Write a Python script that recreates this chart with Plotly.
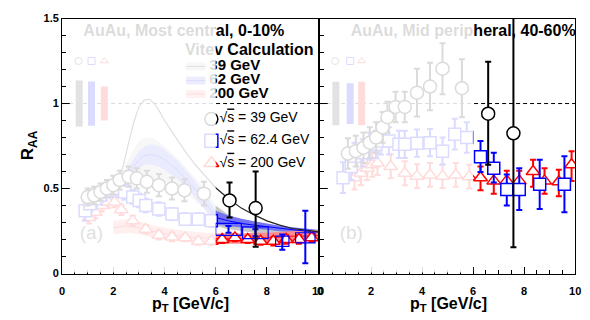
import plotly.graph_objects as go

FONT = "Liberation Sans, Arial, Helvetica, sans-serif"

# ---------------- Panel (a): AuAu most central 0-10% ----------------
a39_x = [1.0, 1.25, 1.5, 1.75, 2.0, 2.25, 2.6, 2.92, 3.31, 3.78, 4.29, 4.78, 5.54, 6.54, 7.56]
a39_y = [0.45, 0.46, 0.48, 0.50, 0.52, 0.55, 0.57, 0.56, 0.54, 0.52, 0.50, 0.49, 0.47, 0.43, 0.385]
a39_up = [0.05, 0.05, 0.05, 0.05, 0.055, 0.055, 0.06, 0.06, 0.065, 0.065, 0.065, 0.065, 0.07, 0.106, 0.215]
a39_dn = [0.05, 0.05, 0.05, 0.05, 0.055, 0.055, 0.06, 0.06, 0.065, 0.065, 0.065, 0.065, 0.07, 0.10, 0.227]

a62_x = [0.9, 1.09, 1.28, 1.47, 1.67, 1.92, 2.18, 2.44, 2.76, 3.01, 3.27, 3.78, 4.29, 4.81, 5.32, 5.83]
a62_y = [0.37, 0.41, 0.44, 0.46, 0.48, 0.50, 0.50, 0.48, 0.45, 0.43, 0.40, 0.38, 0.35, 0.32, 0.32, 0.31]
a62_err = [0.06, 0.05, 0.05, 0.05, 0.05, 0.05, 0.05, 0.045, 0.04, 0.04, 0.04, 0.04, 0.035, 0.035, 0.035, 0.035]
# high-pT 62.4 GeV bins (bin half-width, systematic half-height)
a62h_x = [6.5, 7.55, 8.6, 9.5]
a62h_y = [0.26, 0.24, 0.19, 0.21]
a62h_xw = [0.5, 0.5, 0.26, 0.38]
a62h_sys = [0.035, 0.035, 0.03, 0.03]
a62h_up = [0.02, 0.02, 0.04, 0.16]
a62h_dn = [0.02, 0.02, 0.05, 0.15]

a200_x = [1.05, 1.3, 1.55, 1.8, 2.05, 2.31, 2.76, 3.27, 3.78, 4.29, 4.81, 5.32, 5.83,
          6.25, 6.75, 7.25, 7.75, 8.25, 8.75, 9.25, 9.75]
a200_y = [0.33, 0.36, 0.40, 0.42, 0.42, 0.375, 0.31, 0.26, 0.225, 0.215, 0.21, 0.19, 0.19,
          0.20, 0.21, 0.20, 0.19, 0.19, 0.20, 0.20, 0.21]
a200_err = [0.035, 0.035, 0.035, 0.035, 0.03, 0.03, 0.03, 0.025, 0.025, 0.025, 0.02, 0.02, 0.02,
            0.02, 0.02, 0.02, 0.02, 0.025, 0.025, 0.025, 0.025]

# Vitev calculation (panel a)
th39_x = [2.2, 2.4, 2.6, 2.8, 3.0, 3.2, 3.4, 3.6, 3.8, 4.0, 4.4, 4.8, 5.2, 5.6, 6.0,
          6.5, 7.0, 7.5, 8.0, 8.5, 9.0, 9.5, 10.0]
th39_y = [0.55, 0.64, 0.77, 0.89, 0.98, 1.02, 1.025, 1.0, 0.955, 0.9, 0.81, 0.72, 0.64, 0.57, 0.505,
          0.44, 0.385, 0.345, 0.31, 0.285, 0.265, 0.255, 0.245]
thb_x = [2.3, 2.5, 2.75, 3.0, 3.25, 3.5, 3.75, 4.0, 4.5, 5.0, 5.5, 6.0, 6.5, 7.0, 7.5, 8.0, 8.5, 9.0, 9.5, 10.0]
th39_hi = [0.56, 0.64, 0.72, 0.78, 0.80, 0.80, 0.78, 0.75, 0.68, 0.60, 0.51, 0.40, 0.345, 0.32, 0.305, 0.29, 0.28, 0.27, 0.26, 0.255]
th39_lo = [0.40, 0.44, 0.48, 0.52, 0.54, 0.55, 0.55, 0.54, 0.50, 0.45, 0.39, 0.28, 0.26, 0.25, 0.24, 0.235, 0.23, 0.225, 0.22, 0.22]
th62_c = [0.48, 0.55, 0.62, 0.67, 0.695, 0.70, 0.69, 0.67, 0.61, 0.53, 0.44, 0.33, 0.31, 0.295, 0.285, 0.275, 0.265, 0.258, 0.25, 0.245]
th62_h = [0.03, 0.04, 0.045, 0.05, 0.055, 0.06, 0.06, 0.06, 0.055, 0.05, 0.048, 0.04, 0.032, 0.027, 0.022, 0.018, 0.016, 0.014, 0.013, 0.012]
th200_x = [2.0, 2.5, 3.0, 3.5, 4.0, 4.5, 5.0, 5.5, 6.0, 6.5, 7.0, 7.5, 8.0, 8.5, 9.0, 9.5, 10.0]
th200_c = [0.27, 0.28, 0.27, 0.25, 0.235, 0.225, 0.215, 0.21, 0.205, 0.205, 0.205, 0.21, 0.21, 0.215, 0.22, 0.22, 0.225]
th200_h = [0.04, 0.04, 0.038, 0.036, 0.035, 0.034, 0.033, 0.032, 0.031, 0.03, 0.03, 0.03, 0.03, 0.03, 0.03, 0.03, 0.03]

# ---------------- Panel (b): AuAu mid peripheral 40-60% ----------------
b39_x = [1.09, 1.4, 1.7, 1.95, 2.2, 2.45, 2.64, 2.96, 3.32, 3.80, 4.31, 4.80, 5.56, 6.59, 7.58]
b39_y = [0.706, 0.72, 0.74, 0.77, 0.80, 0.86, 0.92, 0.98, 0.98, 1.064, 1.10, 1.205, 1.09, 0.94, 0.825]
b39_up = [0.09, 0.09, 0.09, 0.09, 0.09, 0.09, 0.09, 0.09, 0.09, 0.14, 0.14, 0.15, 0.17, 0.305, 0.70]
b39_dn = [0.09, 0.09, 0.09, 0.09, 0.09, 0.09, 0.09, 0.09, 0.09, 0.14, 0.14, 0.15, 0.17, 0.30, 0.67]

b62_x = [0.9, 1.22, 1.35, 1.67, 1.93, 2.19, 2.38, 2.70, 3.09, 3.32, 3.80, 4.31, 4.80, 5.28, 5.75,
         6.29, 6.81, 7.32, 7.81, 8.61, 9.58]
b62_y = [0.564, 0.63, 0.69, 0.71, 0.75, 0.76, 0.78, 0.78, 0.76, 0.76, 0.767, 0.77, 0.72, 0.82, 0.80,
         0.687, 0.62, 0.494, 0.494, 0.526, 0.526]
b62_up = [0.09, 0.08, 0.08, 0.08, 0.08, 0.08, 0.08, 0.08, 0.08, 0.08, 0.08, 0.08, 0.08, 0.09, 0.09,
          0.093, 0.09, 0.089, 0.126, 0.144, 0.164]
b62_dn = [0.09, 0.08, 0.08, 0.08, 0.08, 0.08, 0.08, 0.08, 0.08, 0.08, 0.08, 0.08, 0.08, 0.09, 0.09,
          0.09, 0.084, 0.094, 0.12, 0.146, 0.166]

b200_x = [1.35, 1.6, 1.85, 2.05, 2.25, 2.77, 3.32, 3.80, 4.31, 4.80, 5.32, 5.85,
          6.29, 6.81, 7.32, 7.81, 8.35, 8.80, 9.36, 9.86]
b200_y = [0.564, 0.59, 0.62, 0.64, 0.65, 0.63, 0.59, 0.573, 0.58, 0.573, 0.58, 0.57,
          0.564, 0.545, 0.545, 0.545, 0.60, 0.545, 0.54, 0.64]
b200_up = [0.07] * 12 + [0.066, 0.065, 0.06, 0.06, 0.07, 0.075, 0.07, 0.08]
b200_dn = [0.07] * 12 + [0.074, 0.075, 0.07, 0.07, 0.09, 0.075, 0.085, 0.095]

# global normalisation uncertainties (drawn around R_AA = 1)
norm_a_x = [0.67, 1.15, 1.65]
norm_a_h = [0.135, 0.13, 0.10]
norm_b_x = [0.62, 1.18, 1.63]
norm_b_h = [0.128, 0.12, 0.128]

BLACK, BLUE, RED = "#000000", "#0000ff", "#ff0000"

fig = go.Figure()


def add(tr):
    tr.update(showlegend=False, hoverinfo="skip")
    fig.add_trace(tr)


def band(x, lo, hi, fill, xa="x", ya="y"):
    add(go.Scatter(x=list(x) + list(x)[::-1], y=list(hi) + list(lo)[::-1], mode="lines",
                   fill="toself", fillcolor=fill, line=dict(width=0), xaxis=xa, yaxis=ya))


def points(x, y, up, dn, symbol, size, color, xa, ya):
    add(go.Scatter(x=x, y=y, mode="markers", xaxis=xa, yaxis=ya,
                   marker=dict(symbol=symbol, size=size, color="white",
                               line=dict(color=color, width=1.5)),
                   error_y=dict(type="data", symmetric=False, array=up, arrayminus=dn,
                                color=color, thickness=2, width=3)))


def text(x, y, s, size, xa="x", ya="y", pos="middle right", color=BLACK):
    add(go.Scatter(x=[x], y=[y], mode="text", text=[s], textposition=pos, xaxis=xa, yaxis=ya,
                   textfont=dict(family=FONT, size=size, color=color)))


# reference line R_AA = 1
for xa, ya in (("x", "y"), ("x2", "y2")):
    add(go.Scatter(x=[0, 10], y=[1, 1], mode="lines", xaxis=xa, yaxis=ya,
                   line=dict(color=BLACK, width=1, dash="4px,3px")))

# theory bands (panel a)
band(thb_x, th39_lo, th39_hi, "#c8c8c8")
band(thb_x, [c - h for c, h in zip(th62_c, th62_h)], [c + h for c, h in zip(th62_c, th62_h)], "#7474f4")
band(th200_x, [c - h for c, h in zip(th200_c, th200_h)], [c + h for c, h in zip(th200_c, th200_h)], "#ff8c8c")
add(go.Scatter(x=thb_x, y=th62_c, mode="lines", line=dict(color=BLUE, width=1)))
add(go.Scatter(x=th200_x, y=th200_c, mode="lines", line=dict(color=RED, width=1)))
add(go.Scatter(x=th39_x, y=th39_y, mode="lines", line=dict(color="#222222", width=1.2)))

# normalisation boxes + small symbols
for nx, nh, xa, ya in ((norm_a_x, norm_a_h, "x", "y"), (norm_b_x, norm_b_h, "x2", "y2")):
    for xi, hi, col in zip(nx, nh, ("#333333", BLUE, RED)):
        add(go.Scatter(x=[xi, xi], y=[1 - hi, 1 + hi], mode="lines", xaxis=xa, yaxis=ya,
                       line=dict(color=col, width=7)))
    add(go.Scatter(x=[nx[0] - 0.03, nx[1], nx[2]], y=[1.25, 1.25, 1.25], mode="markers", xaxis=xa, yaxis=ya,
                   marker=dict(symbol=["circle-open", "square-open", "triangle-up-open"], size=7,
                               color=["#333333", BLUE, RED], line=dict(width=1))))

# panel (a) data
points(a200_x, a200_y, a200_err, a200_err, "triangle-up", 12, RED, "x", "y")
points(a62_x, a62_y, a62_err, a62_err, "square", 12, BLUE, "x", "y")
# high-pT 62.4 GeV boxes
bx, by = [], []
for xi, yi, wi, si in zip(a62h_x, a62h_y, a62h_xw, a62h_sys):
    bx += [xi - wi, xi + wi, xi + wi, xi - wi, xi - wi, None]
    by += [yi - si, yi - si, yi + si, yi + si, yi - si, None]
add(go.Scatter(x=bx, y=by, mode="lines", line=dict(color=BLUE, width=1.2)))
add(go.Scatter(x=a62h_x, y=a62h_y, mode="markers", marker=dict(size=1, color=BLUE),
               error_y=dict(type="data", symmetric=False, array=a62h_up, arrayminus=a62h_dn,
                            color=BLUE, thickness=2, width=3)))
points(a39_x, a39_y, a39_up, a39_dn, "circle", 13, BLACK, "x", "y")

# panel (b) data
points(b200_x, b200_y, b200_up, b200_dn, "triangle-up", 12, RED, "x2", "y2")
points(b62_x, b62_y, b62_up, b62_dn, "square", 12, BLUE, "x2", "y2")
points(b39_x, b39_y, b39_up, b39_dn, "circle", 13, BLACK, "x2", "y2")

# texts / legends inside panels
text(0.83, 1.422, "<b>AuAu, Most central, 0-10%</b>", 16)
text(1.2, 1.422, "<b>AuAu, Mid peripheral, 40-60%</b>", 16, "x2", "y2")
text(4.8, 1.306, "<b>Vitev Calculation</b>", 16)
for yy, lab, fc, lc in ((1.218, "39 GeV", "#c4c4c4", "#222222"), (1.136, "62 GeV", "#7a7af2", BLUE),
                        (1.056, "200 GeV", "#ff9a9a", RED)):
    add(go.Scatter(x=[4.85, 5.6], y=[yy, yy], mode="lines", line=dict(color=fc, width=8)))
    add(go.Scatter(x=[4.85, 5.6], y=[yy, yy], mode="lines", line=dict(color=lc, width=1)))
    text(5.75, yy, "<b>" + lab + "</b>", 15)
s_lab = "\u221a<span style='text-decoration:overline'>s</span> = "
for yy, lab, sym, col in ((0.909, "39 GeV", "circle", BLACK), (0.781, "62.4 GeV", "square", BLUE),
                          (0.649, "200 GeV", "triangle-up", RED)):
    add(go.Scatter(x=[5.83], y=[yy], mode="markers",
                   marker=dict(symbol=sym, size=13, color="white", line=dict(color=col, width=1.5))))
    text(6.15, yy, s_lab + lab, 14)
text(0.69, 0.234, "(a)", 19, color="#222222")
text(0.77, 0.234, "(b)", 19, "x2", "y2", color="#222222")

# white veil over low-pT region of each panel
for xr, yr in (("x", "y"), ("x2", "y2")):
    fig.add_shape(type="rect", xref=xr, yref=yr, x0=0.3, x1=6.0, y0=0.006, y1=1.494,
                  fillcolor="white", opacity=0.86, line=dict(width=0), layer="above")

tickfont = dict(family=FONT, size=11, color=BLACK, weight="bold")
xcommon = dict(range=[0, 10], tickvals=[0, 2, 4, 6, 8, 10], ticktext=["0", "2", "4", "6", "8", "10"],
               ticks="inside", ticklen=7, tickcolor=BLACK, showline=True, mirror=True, linecolor=BLACK,
               linewidth=1, showgrid=False, zeroline=False, tickfont=tickfont, ticklabelstandoff=7,
               minor=dict(dtick=0.5, ticks="inside", ticklen=4, tickcolor=BLACK, showgrid=False))
ycommon = dict(range=[0, 1.5], tickvals=[0, 0.5, 1, 1.5], ticktext=["0", "0.5", "1", "1.5"],
               ticks="inside", ticklen=8, tickcolor=BLACK, showline=True, mirror=True, linecolor=BLACK,
               linewidth=1, showgrid=False, zeroline=False, tickfont=tickfont,
               minor=dict(dtick=0.1, ticks="inside", ticklen=4, tickcolor=BLACK, showgrid=False))

W, H = 590, 320
fig.update_layout(
    width=W, height=H, autosize=False, margin=dict(l=0, r=0, t=0, b=0),
    paper_bgcolor="white", plot_bgcolor="white", showlegend=False,
    xaxis=dict(domain=[60 / W, 320 / W], anchor="y", **xcommon),
    xaxis2=dict(domain=[322 / W, 581 / W], anchor="y2", **xcommon),
    yaxis=dict(domain=[1 - 278 / H, 1 - 13 / H], anchor="x", **ycommon),
    yaxis2=dict(domain=[1 - 278 / H, 1 - 13 / H], anchor="x2", showticklabels=False, **ycommon),
    annotations=[
        dict(text="<b>p<sub>T</sub> [GeV/c]</b>", x=190 / W, y=1 - 310 / H, xref="paper", yref="paper",
             showarrow=False, font=dict(family=FONT, size=16, color=BLACK), xanchor="center", yanchor="middle"),
        dict(text="<b>p<sub>T</sub> [GeV/c]</b>", x=452 / W, y=1 - 310 / H, xref="paper", yref="paper",
             showarrow=False, font=dict(family=FONT, size=16, color=BLACK), xanchor="center", yanchor="middle"),
        dict(text="<b>R<sub>AA</sub></b>", x=26 / W, y=1 - 145 / H, xref="paper", yref="paper",
             textangle=-90, showarrow=False, font=dict(family=FONT, size=17, color=BLACK),
             xanchor="center", yanchor="middle"),
    ],
)

fig.write_html("out.html")
